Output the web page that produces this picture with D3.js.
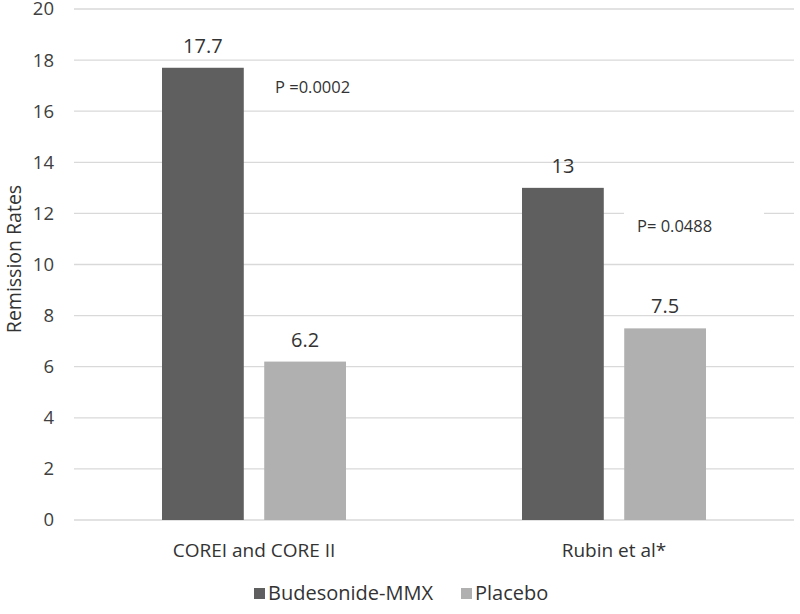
<!DOCTYPE html>
<html>
<head>
<meta charset="utf-8">
<script src="https://cdn.jsdelivr.net/npm/d3@7"></script>
<style>
body{margin:0;background:#fff;}
svg{font-family:"Open Sans","Noto Sans",sans-serif;}
</style>
</head>
<body>
<svg width="800" height="614"></svg>
<script>
// dane z wykresu
var grupy = ["COREI and CORE II", "Rubin et al*"];
var serie = ["Budesonide-MMX", "Placebo"];
var budesonid = [17.7, 13];
var placebo = [6.2, 7.5];
var etykietyY = [0, 2, 4, 6, 8, 10, 12, 14, 16, 18, 20];
var pWartosci = ["P =0.0002", "P= 0.0488"];
var kolory = ["#5f5f5f", "#b0b0b0"];

var svg = d3.select("svg");
var lewo = 74, prawo = 794, gora = 9, dol = 520;

var y = d3.scaleLinear().domain([0, 20]).range([dol, gora]);
var x0 = d3.scaleBand().domain(grupy).range([lewo, prawo]);
var x1 = d3.scaleBand().domain(serie).range([-92, 92]).paddingInner(0.2);

// linie siatki
svg.append("g")
	.selectAll("line")
	.data(etykietyY)
	.join("line")
	.attr("x1", lewo).attr("x2", prawo)
	.attr("y1", d => y(d)).attr("y2", d => y(d))
	.style("stroke", "#d9d9d9")
	.style("stroke-width", "1.3px");

// os Y
var osY = svg.append("g")
	.attr("transform", "translate(54,0)")
	.call(d3.axisLeft(y).tickValues(etykietyY).tickSize(0).tickPadding(0));
osY.select(".domain").remove();
osY.selectAll("text")
	.attr("fill", "#404040")
	.attr("font-family", "Open Sans")
	.attr("font-size", 18.5);

svg.append("text")
	.attr("transform", "translate(21,259) rotate(-90)")
	.attr("text-anchor", "middle")
	.attr("fill", "#333")
	.attr("font-size", 19.5)
	.text("Remission Rates");

// slupki
var dane = grupy.map((g, i) => ({grupa: g, wartosci: [budesonid[i], placebo[i]]}));
var g = svg.selectAll(".grupa")
	.data(dane)
	.join("g")
	.attr("class", "grupa")
	.attr("transform", d => "translate(" + (x0(d.grupa) + x0.bandwidth() / 2) + ",0)");

g.selectAll("rect")
	.data(d => d.wartosci.map((v, j) => ({seria: serie[j], v: v, j: j})))
	.join("rect")
	.attr("x", d => x1(d.seria))
	.attr("width", x1.bandwidth())
	.attr("y", d => y(d.v))
	.attr("height", d => dol - y(d.v))
	.style("fill", d => kolory[d.j]);

g.selectAll(".wartosc")
	.data(d => d.wartosci.map((v, j) => ({seria: serie[j], v: v})))
	.join("text")
	.attr("class", "wartosc")
	.attr("x", d => x1(d.seria) + x1.bandwidth() / 2)
	.attr("y", d => y(d.v) - 15)
	.attr("text-anchor", "middle")
	.attr("fill", "#333")
	.attr("font-size", 20)
	.text(d => d.v);

// wartosci P (pole tekstowe z bialym tlem)
var pPozycje = [[275, 93], [637, 232]];
pWartosci.forEach(function(t, i) {
	if (i == 1) {
		svg.append("rect")
			.attr("x", 624).attr("y", 200)
			.attr("width", 140).attr("height", 48)
			.style("fill", "#fff");
	}
	svg.append("text")
		.attr("x", pPozycje[i][0])
		.attr("y", pPozycje[i][1])
		.attr("fill", "#333")
		.attr("font-size", 16.5)
		.text(t);
});

// etykiety kategorii
svg.selectAll(".kategoria")
	.data(grupy)
	.join("text")
	.attr("class", "kategoria")
	.attr("x", d => x0(d) + x0.bandwidth() / 2)
	.attr("y", 557)
	.attr("text-anchor", "middle")
	.attr("fill", "#333")
	.attr("font-size", 19)
	.text(d => d);

// legenda
var legX = [254, 461];
serie.forEach(function(s, i) {
	svg.append("rect")
		.attr("x", legX[i]).attr("y", 588)
		.attr("width", 11).attr("height", 11)
		.style("fill", kolory[i]);
	svg.append("text")
		.attr("x", legX[i] + 14)
		.attr("y", 600)
		.attr("fill", "#333")
		.attr("font-size", 20)
		.text(s);
});
</script>
</body>
</html>
